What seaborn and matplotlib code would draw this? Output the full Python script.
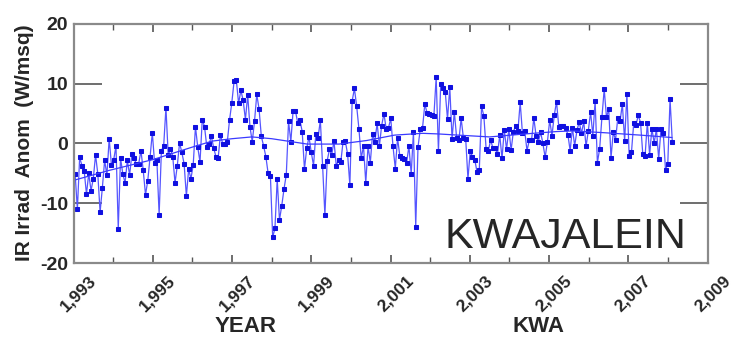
import numpy as np
import pandas as pd
import seaborn as sns
import matplotlib.pyplot as plt
import matplotlib.transforms as mtransforms
from matplotlib.ticker import FuncFormatter

# anomaly values, in time order (1993.04 .. 2008.11)
anom_93_97 = [-5.1, -11.0, -2.3, -3.7, -4.6, -8.5, -5.0, -7.9, -5.9, -1.9, -5.1, -11.5, -7.4, -2.8, -5.3, 0.8,
              -3.6, -2.7, -0.4, -14.3, -2.4, -5.1, -6.6, -2.8, -5.3, -1.8, -2.5, -3.5, -3.4, -1.2, -4.5, -8.6,
              -6.2, -2.3, 1.8, -3.3, -2.8, -11.9, -1.2, -0.4, 6.0, -2.0, -0.9, -2.2, -6.6, -3.7, 0.1, -1.5,
              -3.4, -8.8, -4.3, -5.9, -3.6, 2.8, -0.6, -3.1, 4.0, 2.8, -0.6, -0.1, 1.2, -0.7, -2.2, -2.4,
              1.5, -0.1, -0.1, 0.2, 3.9, 6.8, 10.4, 10.6, 6.7, 8.9, 7.2, 4.0, 8.1, 2.8, 0.3, 3.7, 8.2, 5.8]
anom_97_02 = [1.2, -0.4, -2.2, -5.0, -5.4, -15.7, -14.2, -6.0, -12.8, -10.4, -7.6, -5.2, 3.7, 0.3, 5.5,
              5.5, 3.5, 3.9, 2.0, -4.3, -0.8, 1.1, -1.5, -3.7, 1.6, 1.0, 3.9, -3.8, -12.0, -2.9,
              -1.0, -1.9, 0.4, -3.7, -2.8, -3.1, 0.3, 0.4, -1.8, -7.0, 7.1, 9.2, 6.2, 2.4, -2.5,
              -0.4, -6.6, -0.4, -3.2, 1.6, 0.3, 3.4, -0.4, 3.0, 5.0, 2.4, 2.6, 4.2, -0.5, -4.2,
              0.9, -2.1, -2.4, -2.6, -3.2, -0.4, -5.1, 2.0, -13.9, -0.6, 2.4, 2.6, 6.6, 5.1, 4.9,
              4.8, 4.6, 11.1, -1.3]
anom_02_05 = [9.9, 9.2, 8.6, 4.1, 9.4, 0.8, 5.3, 1.0, 0.5, 4.2, 0.9, 0.8, -5.9, -1.3, -2.2, -2.7, -4.8,
              -4.4, 6.2, 4.6, -0.9, -1.2, 0.6, -0.8, -0.8, -1.8, 1.4, -2.5, 2.3, -1.0, 2.4, -1.1, 2.0,
              2.9, 2.1, 6.9, 1.7, 2.1, -1.2, 0.5, 0.5, 4.3, 1.3, 0.3, 1.9, 0.0, -2.3, 0.3, 3.9, 1.3,
              4.7, 7.0, 2.8, 3.0, 2.9, 2.6, 1.5, -1.2, 2.6, -0.4, 2.2, 3.6, 1.7, 3.7, -0.5, 2.1, 5.3]
anom_05_08 = [1.3, 7.1, -3.2, -0.9, 4.4, 9.1, 4.4, 5.7, -2.4, 1.9, 0.6, 4.3, 3.8, 6.6, 0.4, 8.3, -2.1,
              -1.5, 3.4, 3.1, 4.7, 3.5, -1.8, -2.1, 3.5, -1.9, 2.5, 0.1, 2.4, -2.6, 2.4, 1.8, -4.4,
              -3.4, 7.4, 0.2]
first_year, last_year = 1993.04, 2008.11

# smooth trend curve
trend_years = [1993.04, 1993.9, 1995.0, 1996.0, 1996.5, 1997.0, 1997.5, 1998.0, 1998.9, 1999.7, 2000.4,
               2001.1, 2001.8, 2002.2, 2002.7, 2003.5, 2004.4, 2005.2, 2005.6, 2006.4, 2007.3, 2008.1]
trend_vals = [-6.1, -4.5, -2.7, -0.6, 0.4, 0.8, 1.1, 0.8, -0.1, -0.1, 0.5,
              1.4, 1.7, 1.6, 1.4, 1.1, 1.6, 2.0, 2.1, 1.8, 1.4, 1.0]

x_major = [1993, 1995, 1997, 1999, 2001, 2003, 2005, 2007, 2009]
x_minor = [1994, 1996, 1998, 2000, 2002, 2004, 2006, 2008]
y_ticks = [-20, -10, 0, 10, 20]

anom = anom_93_97 + anom_97_02 + anom_02_05 + anom_05_08
df = pd.DataFrame({"year": np.linspace(first_year, last_year, len(anom)), "anom": anom})

sns.set_style("ticks")
plt.rcParams["font.family"] = ["Liberation Sans", "DejaVu Sans"]
plt.rcParams["axes.unicode_minus"] = False

fig = plt.figure(figsize=(7.39, 3.47), dpi=100)
ax = fig.add_axes([0.0995, 0.242, 0.858, 0.689])

sns.lineplot(data=df, x="year", y="anom", ax=ax, color="#5555ff", linewidth=0.9,
             marker="s", markersize=2.4, markerfacecolor="#1010e0", markeredgecolor="#1010e0")
sns.lineplot(x=trend_years, y=trend_vals, ax=ax, color="#3a3aff", linewidth=0.9)

ax.set_xlim(1993, 2009)
ax.set_ylim(-20, 20)
ax.set_yticks(y_ticks)
ax.set_xticks(x_major)
ax.set_xticks(x_minor, minor=True)
ax.xaxis.set_major_formatter(FuncFormatter(lambda v, p: f"{int(round(v)):,}"))

for s in ax.spines.values():
    s.set_color("#8a8a8a")
    s.set_linewidth(1.6)

ax.tick_params(axis="x", which="major", direction="in", length=6, width=1.2, top=True, bottom=True,
               color="#555555", labelsize=12.5, pad=2)
ax.tick_params(axis="x", which="minor", direction="in", length=4, width=1.0, top=True, bottom=True,
               color="#555555")
ax.tick_params(axis="y", which="major", direction="in", length=20, width=1.2, left=True, right=True,
               color="#555555", labelsize=14, pad=4)

off = mtransforms.ScaledTranslation(15 / 100, -7 / 100, fig.dpi_scale_trans)
for lab in ax.get_xticklabels():
    lab.set_rotation(45)
    lab.set_ha("right")
    lab.set_va("top")
    lab.set_rotation_mode("anchor")
    lab.set_fontweight("bold")
    lab.set_transform(lab.get_transform() + off)
for lab in ax.get_yticklabels():
    lab.set_fontweight("bold")

ax.set_xlabel("")
ax.set_ylabel("")
fig.text(25 / 739, 1 - 143 / 347, "IR Irrad  Anom  (W/msq)", rotation=90, ha="center", va="center",
         fontsize=15, fontweight="bold")
fig.text(246 / 739, 1 - 327 / 347, "YEAR", ha="center", va="center", fontsize=16, fontweight="bold")
fig.text(538 / 739, 1 - 327 / 347, "KWA", ha="center", va="center", fontsize=16, fontweight="bold")
fig.text(445 / 739, 1 - 248 / 347, "KWAJALEIN", ha="left", va="baseline", fontsize=31)

fig.savefig("out.png", dpi=100)
